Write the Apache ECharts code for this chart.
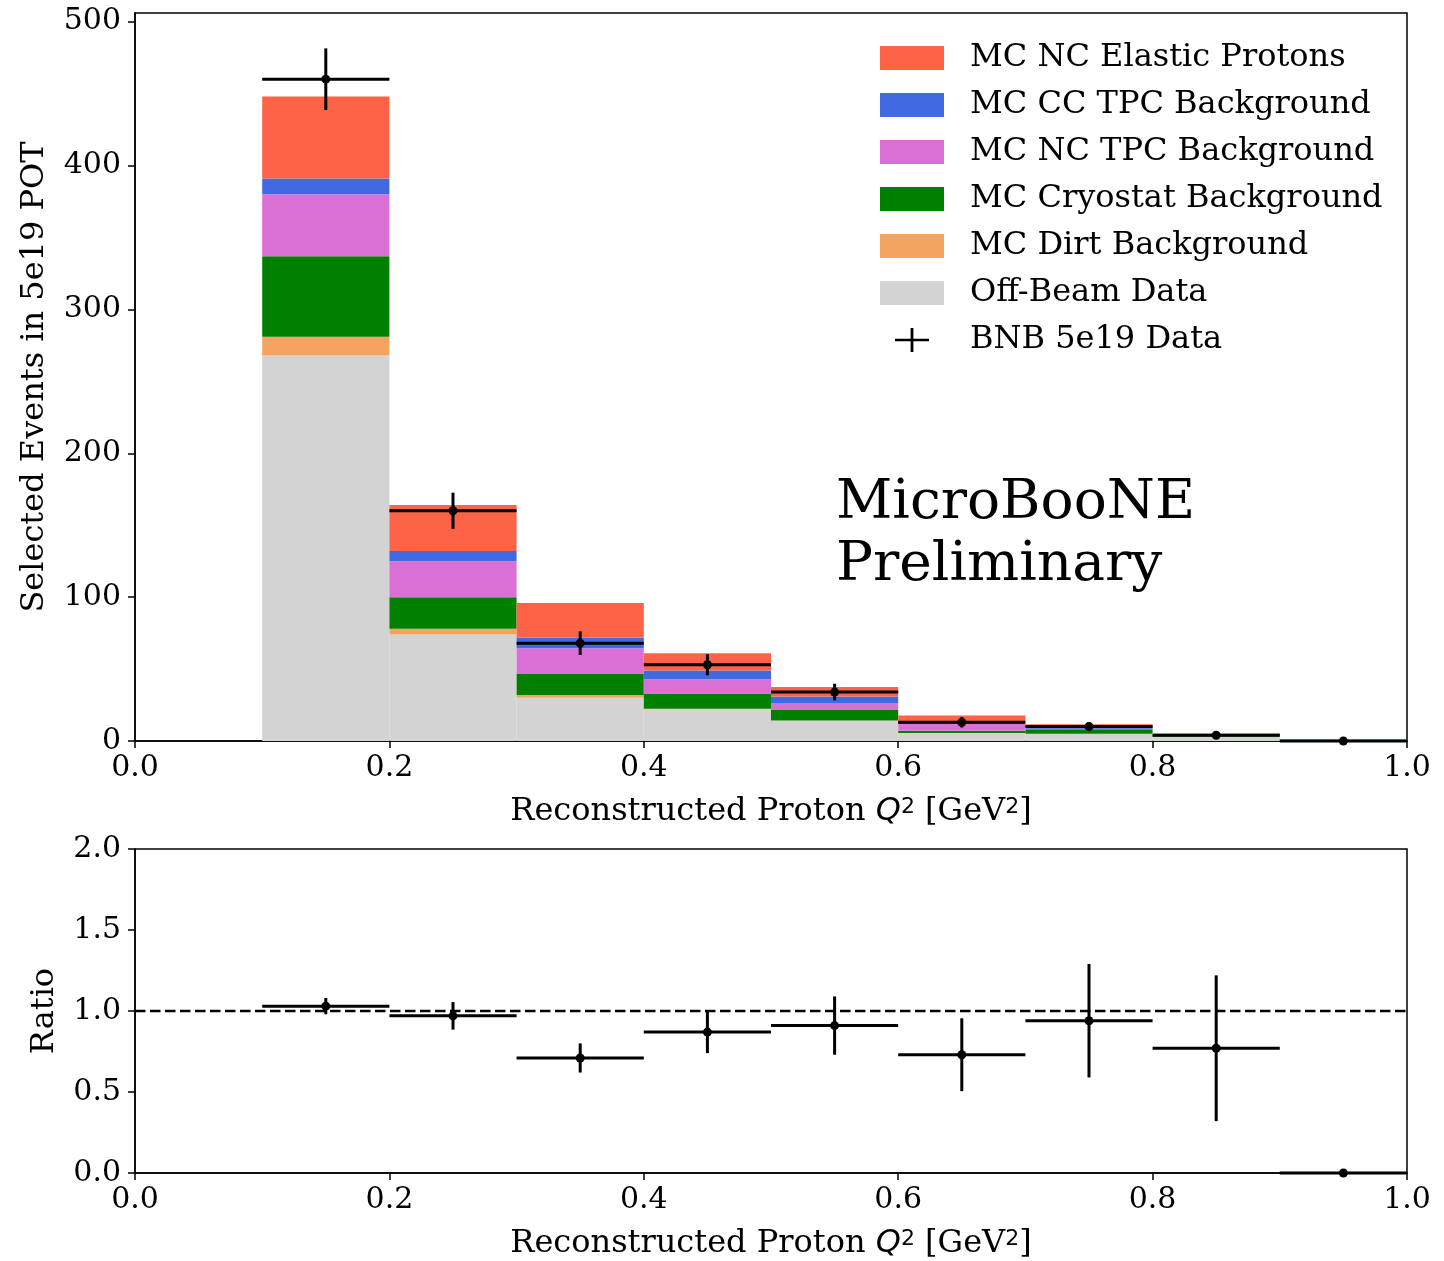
<!DOCTYPE html>
<html>
<head>
<meta charset="utf-8">
<script src="https://cdn.jsdelivr.net/npm/echarts@6/dist/echarts.min.js"></script>
<style>html,body{margin:0;padding:0;background:#fff}#c{width:1444px;height:1261px}</style>
</head>
<body>
<div id="c"></div>
<script>
// ---- data ----
const binLow  = [0.1, 0.2, 0.3, 0.4, 0.5, 0.6, 0.7, 0.8, 0.9];
const binHigh = [0.2, 0.3, 0.4, 0.5, 0.6, 0.7, 0.8, 0.9, 1.0];
const binCenter = [0.15, 0.25, 0.35, 0.45, 0.55, 0.65, 0.75, 0.85, 0.95];
// stacked MC components (bottom to top)
const offBeam   = [268, 74, 30, 22, 14, 5.3, 4.9, 2.8, 0.5];
const dirt      = [13, 4, 2, 0.5, 0.3, 0.2, 0.1, 0.1, 0.0];
const cryostat  = [56, 22, 15, 10.5, 7.2, 1.7, 3.1, 1.2, 0.2];
const ncTpc     = [43, 25, 17.5, 10, 4.5, 4.6, 0.5, 0.3, 0.1];
const ccTpc     = [11, 7, 7.5, 6, 5, 1.6, 0.7, 0.2, 0.1];
const ncElastic = [57, 32, 24, 12, 6.5, 4.4, 2.3, 0.6, 0.4];
// BNB data
const bnbData = [460, 160, 68, 53, 34, 13, 10, 4, 0];
const bnbErr  = [21.4, 12.6, 8.2, 7.3, 5.8, 3.6, 3.2, 2.0, 0];
// ratio panel
const ratio    = [1.03, 0.97, 0.71, 0.87, 0.91, 0.73, 0.94, 0.77, 0.0];
const ratioErr = [0.05, 0.085, 0.09, 0.13, 0.18, 0.225, 0.35, 0.45, 0.0];
const refLine  = [[0, 1], [1, 1]];
// tick labels
const xTicks = [0, 0.2, 0.4, 0.6, 0.8, 1.0];
const yTicksTop = [0, 100, 200, 300, 400, 500];
const yTicksRatio = [0, 0.5, 1.0, 1.5, 2.0];

const compNames  = ['MC NC Elastic Protons', 'MC CC TPC Background', 'MC NC TPC Background', 'MC Cryostat Background', 'MC Dirt Background', 'Off-Beam Data'];
const compValues = [ncElastic, ccTpc, ncTpc, cryostat, dirt, offBeam];
const compColors = ['#FF6347', '#4169E1', '#DA70D6', '#008000', '#F4A460', '#D3D3D3'];
const dataName = 'BNB 5e19 Data';

const FONT = 'DejaVu Serif';
const FS = 30;   // tick labels
const FN = 32;   // axis names / legend

// build stack (bottom-up order: offBeam, dirt, cryostat, ncTpc, ccTpc, ncElastic)
const stackOrder = [5, 4, 3, 2, 1, 0];
const cum = binLow.map(() => 0);
const stackData = {};
stackOrder.forEach(ci => {
  stackData[ci] = binLow.map((x0, i) => {
    const b = cum[i];
    const t = b + compValues[ci][i];
    cum[i] = t;
    return [x0, binHigh[i], b, t];
  });
});

function renderBar(params, api) {
  const p0 = api.coord([api.value(0), api.value(3)]);
  const p1 = api.coord([api.value(1), api.value(2)]);
  return {
    type: 'rect',
    shape: { x: p0[0], y: p0[1], width: p1[0] - p0[0], height: p1[1] - p0[1] },
    style: { fill: api.visual('color') }
  };
}
function renderErr(params, api) {
  const x0 = api.value(0), x1 = api.value(1), xc = api.value(2), y = api.value(3), e = api.value(4);
  const a = api.coord([x0, y]), b = api.coord([x1, y]);
  const c = api.coord([xc, y + e]), d = api.coord([xc, y - e]);
  const m = api.coord([xc, y]);
  const st = { stroke: '#000', lineWidth: 3 };
  return {
    type: 'group',
    children: [
      { type: 'line', shape: { x1: a[0], y1: a[1], x2: b[0], y2: b[1] }, style: st },
      { type: 'line', shape: { x1: c[0], y1: c[1], x2: d[0], y2: d[1] }, style: st },
      { type: 'circle', shape: { cx: m[0], cy: m[1], r: 4.5 }, style: { fill: '#000' } }
    ]
  };
}

const series = [];
stackOrder.forEach(ci => {
  series.push({
    type: 'custom', name: compNames[ci], xAxisIndex: 0, yAxisIndex: 0,
    renderItem: renderBar, itemStyle: { color: compColors[ci] },
    encode: { x: [0, 1], y: [2, 3] }, data: stackData[ci], silent: true, clip: true
  });
});
series.push({
  type: 'custom', name: dataName, xAxisIndex: 0, yAxisIndex: 0,
  renderItem: renderErr, itemStyle: { color: '#000' },
  encode: { x: [0, 1], y: 3 },
  data: binLow.map((x0, i) => [x0, binHigh[i], binCenter[i], bnbData[i], bnbErr[i]]),
  silent: true, clip: false, z: 5
});
series.push({
  type: 'line', xAxisIndex: 1, yAxisIndex: 1, data: refLine, symbol: 'none', silent: true,
  lineStyle: { color: '#000', width: 2.5, type: [10.5, 4.5] }, z: 3
});
series.push({
  type: 'custom', name: 'ratio', xAxisIndex: 1, yAxisIndex: 1,
  renderItem: renderErr, itemStyle: { color: '#000' },
  encode: { x: [0, 1], y: 3 },
  data: binLow.map((x0, i) => [x0, binHigh[i], binCenter[i], ratio[i], ratioErr[i]]),
  silent: true, clip: false, z: 5
});

const axisLine = { show: true, onZero: false, lineStyle: { color: '#000', width: 1.5 } };
const axisTick = { show: true, inside: false, length: 7, lineStyle: { color: '#000', width: 1.5 } };
const labelStyle = { color: '#000', fontFamily: FONT, fontSize: FS };
const xName = 'Reconstructed Proton {i|Q}{s|2} [GeV{s|2}]';
const xNameStyle = {
  color: '#000', fontFamily: FONT, fontSize: FN,
  rich: {
    i: { fontFamily: 'DejaVu Sans', fontSize: FN, fontStyle: 'italic', color: '#000' },
    s: { fontFamily: 'DejaVu Sans', fontSize: 22, color: '#000', verticalAlign: 'top' }
  }
};

function xAxisDef(gi) {
  return {
    type: 'value', gridIndex: gi, min: 0, max: 1, interval: 0.2,
    axisLine, axisTick: Object.assign({ customValues: xTicks }, axisTick), splitLine: { show: false },
    axisLabel: Object.assign({ margin: 12, customValues: xTicks, formatter: v => v.toFixed(1) }, labelStyle),
    name: xName, nameLocation: 'middle', nameGap: 55, nameTextStyle: xNameStyle
  };
}

const option = {
  animation: false,
  backgroundColor: '#fff',
  grid: [
    { left: 135, right: 37, top: 13, height: 728, show: true, borderColor: '#000', borderWidth: 1.5, containLabel: false },
    { left: 135, right: 37, top: 849, height: 325, show: true, borderColor: '#000', borderWidth: 1.5, containLabel: false }
  ],
  xAxis: [xAxisDef(0), xAxisDef(1)],
  yAxis: [
    {
      type: 'value', gridIndex: 0, min: 0, max: 506, interval: 100,
      axisLine, axisTick: Object.assign({ customValues: yTicksTop }, axisTick), splitLine: { show: false },
      axisLabel: Object.assign({ margin: 14, customValues: yTicksTop }, labelStyle),
      name: 'Selected Events in 5e19 POT', nameLocation: 'middle', nameRotate: 90, nameGap: 84,
      nameTextStyle: { color: '#000', fontFamily: FONT, fontSize: FN }
    },
    {
      type: 'value', gridIndex: 1, min: 0, max: 2, interval: 0.5,
      axisLine, axisTick: Object.assign({ customValues: yTicksRatio }, axisTick), splitLine: { show: false },
      axisLabel: Object.assign({ margin: 14, customValues: yTicksRatio, formatter: v => v.toFixed(1) }, labelStyle),
      name: 'Ratio', nameLocation: 'middle', nameRotate: 90, nameGap: 74,
      nameTextStyle: { color: '#000', fontFamily: FONT, fontSize: FN }
    }
  ],
  legend: {
    left: 875, top: 37, orient: 'vertical', selectedMode: false,
    itemWidth: 64, itemHeight: 24, itemGap: 15, icon: 'rect',
    textStyle: { color: '#000', fontFamily: FONT, fontSize: FN, lineHeight: 24, padding: [0, 0, 0, 21] },
    data: compNames.map(n => ({ name: n })).concat([{
      name: dataName,
      icon: 'path://M0,0 M64,24 M15,10.8 L30.6,10.8 L30.6,0 L33.4,0 L33.4,10.8 L49,10.8 L49,13.2 L33.4,13.2 L33.4,24 L30.6,24 L30.6,13.2 L15,13.2 Z'
    }])
  },
  graphic: [{
    type: 'text', left: 836, top: 473,
    style: { text: 'MicroBooNE\nPreliminary', fontFamily: FONT, fontSize: 55, lineHeight: 62, fill: '#000' }
  }],
  series
};

const chart = echarts.init(document.getElementById('c'), null, { renderer: 'canvas' });
chart.setOption(option);
</script>
</body>
</html>
